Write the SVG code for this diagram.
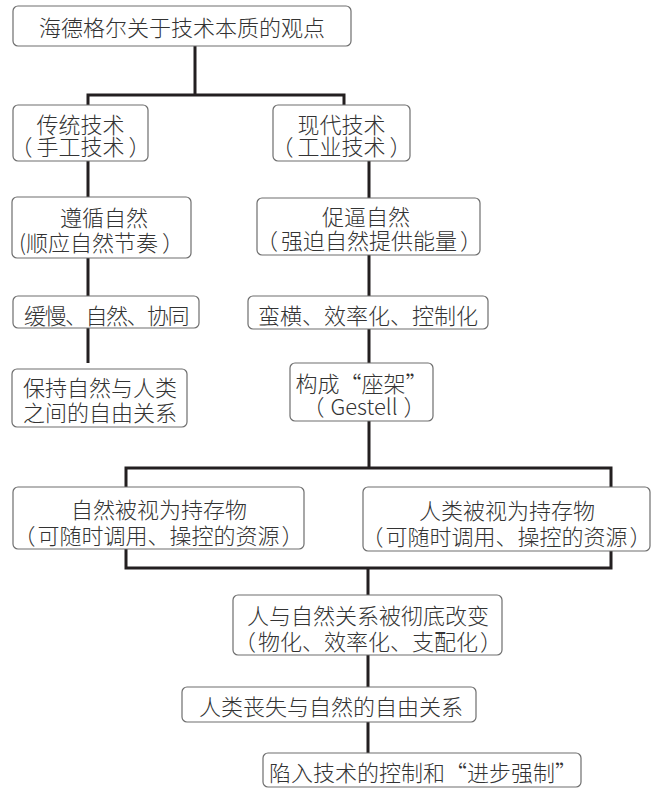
<svg xmlns="http://www.w3.org/2000/svg" width="651" height="789" viewBox="0 0 651 789">
<style>
.box{fill:#fff;stroke:#6e6e6e;stroke-width:1.2}
.t{font-family:"Noto Sans CJK SC","Noto Sans",sans-serif;font-size:22px;font-weight:300;fill:#333;text-anchor:middle;dominant-baseline:central}
.c{fill:none;stroke:#231f20;stroke-width:3;stroke-linecap:butt;stroke-linejoin:miter}
</style>
<rect width="651" height="789" fill="#fff"/>
<g id="connectors">
<path class="c" d="M195,46 V95 M88,95 H344 M88,93.5 V105 M344,93.5 V105"/>
<path class="c" d="M88,161 V197 M88,258 V296 M88,328 V363"/>
<path class="c" d="M369,161 V198 M369,255 V296 M369,329 V363 M369,421 V468"/>
<path class="c" d="M126,468 H611 M126,466.5 V487 M611,466.5 V487"/>
<path class="c" d="M126,549 V568 M611,551 V568 M124.5,568 H612.5 M368,568 V595"/>
<path class="c" d="M368,655 V687 M368,722 V753"/>
</g>
<g id="n-title"><rect class="box" x="13" y="6" width="338" height="40" rx="5"/><text class="t" x="182" y="26">海德格尔关于技术本质的观点</text></g>
<g id="n-trad"><rect class="box" x="13" y="105" width="135" height="56" rx="5"/><text class="t" x="80.5" y="122.5">传统技术</text><text class="t" x="80.5" y="145" dx="0 4 0 0 0 4">（手工技术）</text></g>
<g id="n-modern"><rect class="box" x="273" y="105" width="137" height="56" rx="5"/><text class="t" x="341.5" y="122.5">现代技术</text><text class="t" x="341.5" y="145" dx="0 4 0 0 0 4">（工业技术）</text></g>
<g id="n-follow"><rect class="box" x="12" y="197" width="179" height="61" rx="5"/><text class="t" x="104" y="216">遵循自然</text><text class="t" x="101.5" y="241" dx="0 0 0 0 0 0 0 4">(顺应自然节奏）</text></g>
<g id="n-force"><rect class="box" x="257" y="198" width="223" height="57" rx="5"/><text class="t" x="366" y="214.5">促逼自然</text><text class="t" x="369" y="238.5" dx="0 3 0 0 0 0 0 0 0 3">（强迫自然提供能量）</text></g>
<g id="n-slow"><rect class="box" x="13" y="296" width="186" height="32" rx="5"/><text class="t" x="106" y="313.5" letter-spacing="-1.5">缓慢、自然、协同</text></g>
<g id="n-harsh"><rect class="box" x="248" y="296" width="240" height="33" rx="5"/><text class="t" x="368" y="314">蛮横、效率化、控制化</text></g>
<g id="n-keep"><rect class="box" x="12" y="369" width="175" height="58" rx="5"/><text class="t" x="100" y="386">保持自然与人类</text><text class="t" x="100" y="411">之间的自由关系</text></g>
<g id="n-gestell"><rect class="box" x="290" y="363" width="143" height="58" rx="5"/><text class="t" x="361.5" y="381.5">构成“座架”</text><text class="t" x="364" y="405" dx="0 6 0 0 0 0 0 0 6">（Gestell）</text></g>
<g id="n-nature"><rect class="box" x="13" y="487" width="291" height="62" rx="5"/><text class="t" x="159" y="507.5">自然被视为持存物</text><text class="t" x="158.5" y="533.5" dx="0 2 0 0 0 0 0 0 0 0 0 0 2">（可随时调用、操控的资源）</text></g>
<g id="n-human"><rect class="box" x="363" y="487" width="287" height="64" rx="5"/><text class="t" x="507" y="509">人类被视为持存物</text><text class="t" x="506.5" y="535" dx="0 2 0 0 0 0 0 0 0 0 0 0 2">（可随时调用、操控的资源）</text></g>
<g id="n-change"><rect class="box" x="233" y="595" width="269" height="60" rx="5"/><text class="t" x="368" y="614">人与自然关系被彻底改变</text><text class="t" x="368" y="640" dx="0 2 0 0 0 0 0 0 0 0 0 2">（物化、效率化、支配化）</text></g>
<g id="n-lose"><rect class="box" x="182" y="687" width="294" height="35" rx="5"/><text class="t" x="331" y="704.5">人类丧失与自然的自由关系</text></g>
<g id="n-trap"><rect class="box" x="263" y="753" width="318" height="34" rx="5"/><text class="t" x="423" y="771">陷入技术的控制和“进步强制”</text></g>
</svg>
